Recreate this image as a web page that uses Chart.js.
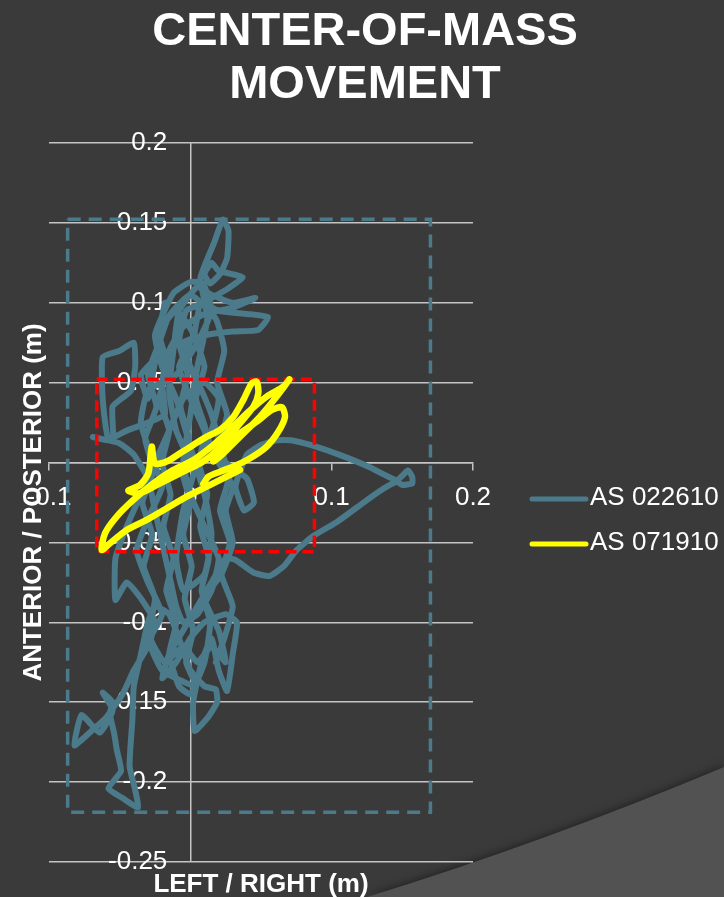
<!DOCTYPE html>
<html>
<head>
<meta charset="utf-8">
<script src="https://cdn.jsdelivr.net/npm/chart.js@4.4.1/dist/chart.umd.min.js"></script>
<style>
  html, body { margin: 0; padding: 0; background: #3a3a3a; }
  canvas { display: block; }
</style>
</head>
<body>
<canvas id="chart" width="724" height="897"></canvas>
<script>
// ---- text ----
const titleLines = ['CENTER-OF-MASS', 'MOVEMENT'];
const xAxisTitle = 'LEFT / RIGHT (m)';
const yAxisTitle = 'ANTERIOR / POSTERIOR (m)';
const seriesNames = ['AS 022610', 'AS 071910'];

// ---- ticks ----
const xTickValues = [-0.1, 0, 0.1, 0.2];
const xTickLabels = ['-0.1', '0', '0.1', '0.2'];
const yTickValues = [-0.25, -0.2, -0.15, -0.1, -0.05, 0, 0.05, 0.1, 0.15, 0.2];
const yTickLabels = ['-0.25', '-0.2', '-0.15', '-0.1', '-0.05', '0', '0.05', '0.1', '0.15', '0.2'];

// ---- centre-of-mass traces, [left/right, anterior/posterior] in metres ----
const as022610Path = [
  [0.000, 0.000], [-0.010, 0.020], [-0.015, 0.045], [-0.012, 0.070], [-0.008, 0.095], [0.005, 0.110],
  [0.015, 0.105], [0.030, 0.100], [0.046, 0.103], [0.030, 0.097], [0.010, 0.093], [-0.005, 0.085],
  [-0.015, 0.070], [-0.020, 0.050], [-0.018, 0.030],
  [-0.030, 0.025], [-0.045, 0.020], [-0.058, 0.015], [-0.062, 0.040], [-0.062, 0.066], [-0.050, 0.070],
  [-0.040, 0.075], [-0.039, 0.060], [-0.042, 0.045], [-0.055, 0.035], [-0.055, 0.014], [-0.069, 0.016],
  [-0.050, 0.012], [-0.040, 0.005],
  [-0.030, -0.010], [-0.025, -0.030], [-0.020, -0.050], [-0.015, -0.070], [-0.010, -0.090], [-0.005, -0.100],
  [0.005, -0.095], [0.015, -0.080], [0.020, -0.060], [0.010, -0.040], [0.000, -0.020], [-0.005, 0.000],
  [0.000, 0.030], [0.005, 0.060], [0.012, 0.090],
  [0.007, 0.115], [0.010, 0.123], [0.017, 0.138], [0.023, 0.152], [0.027, 0.145], [0.026, 0.128],
  [0.021, 0.118], [0.014, 0.112], [0.010, 0.118], [0.015, 0.125], [0.020, 0.120], [0.037, 0.116],
  [0.025, 0.108], [0.010, 0.100],
  [0.020, 0.095], [0.040, 0.093], [0.055, 0.091], [0.048, 0.083], [0.030, 0.082], [0.012, 0.080],
  [-0.005, 0.075], [0.000, 0.060], [0.008, 0.045], [0.015, 0.030], [0.020, 0.015], [0.025, 0.000],
  [0.040, -0.010], [0.045, -0.025], [0.038, -0.030], [0.032, -0.015], [0.040, 0.005],
  [0.050, 0.011], [0.061, 0.014], [0.071, 0.014], [0.085, 0.011], [0.108, 0.004], [0.127, -0.003],
  [0.146, -0.011], [0.154, -0.005], [0.157, -0.009], [0.157, -0.013], [0.150, -0.014], [0.146, -0.012],
  [0.132, -0.019], [0.118, -0.028], [0.104, -0.037], [0.087, -0.046], [0.075, -0.055], [0.066, -0.065],
  [0.056, -0.071], [0.045, -0.069], [0.032, -0.061],
  [0.025, -0.060], [0.015, -0.075], [0.005, -0.090], [-0.005, -0.105], [-0.015, -0.120], [-0.020, -0.135],
  [-0.010, -0.125], [0.000, -0.110], [0.010, -0.100], [0.025, -0.095], [0.033, -0.100], [0.030, -0.120],
  [0.026, -0.143], [0.020, -0.130], [0.015, -0.110], [0.008, -0.125], [0.002, -0.150], [0.003, -0.168],
  [0.012, -0.160], [0.019, -0.150], [0.018, -0.142], [0.010, -0.140], [0.000, -0.130], [-0.008, -0.110],
  [-0.015, -0.095], [-0.025, -0.090],
  [-0.030, -0.100], [-0.035, -0.120], [-0.040, -0.140], [-0.041, -0.161], [-0.043, -0.190], [-0.039, -0.205],
  [-0.037, -0.216], [-0.048, -0.210], [-0.058, -0.204], [-0.049, -0.193], [-0.052, -0.180], [-0.054, -0.169],
  [-0.057, -0.157], [-0.055, -0.150], [-0.062, -0.144], [-0.055, -0.155], [-0.064, -0.169], [-0.077, -0.158],
  [-0.082, -0.177], [-0.070, -0.168], [-0.060, -0.160], [-0.048, -0.145], [-0.040, -0.130],
  [-0.030, -0.115], [-0.025, -0.100], [-0.035, -0.085], [-0.045, -0.075], [-0.053, -0.086], [-0.053, -0.060],
  [-0.045, -0.040], [-0.035, -0.020], [-0.025, 0.000], [-0.015, 0.020], [-0.005, 0.040], [0.010, 0.050],
  [0.020, 0.040], [0.015, 0.020], [0.005, 0.000], [-0.005, -0.030], [-0.010, -0.060], [-0.005, -0.080],
  [0.010, -0.070], [0.015, -0.045], [0.010, -0.020], [0.000, 0.010], [-0.010, 0.040], [-0.020, 0.060],
  [-0.025, 0.080], [-0.012, 0.106], [0.000, 0.113], [0.009, 0.112],
  [0.015, 0.095], [0.005, 0.075], [-0.010, 0.055], [-0.030, 0.045], [-0.035, 0.025], [-0.028, 0.005],
  [-0.020, -0.015], [-0.030, -0.035], [-0.038, -0.055], [-0.030, -0.075], [-0.020, -0.095], [-0.028, -0.110],
  [-0.018, -0.125], [-0.005, -0.115], [0.005, -0.125], [0.015, -0.115], [0.025, -0.125], [0.020, -0.105],
  [0.010, -0.085], [0.022, -0.070], [0.030, -0.050], [0.025, -0.030], [0.030, -0.015], [0.020, 0.000],
  [0.010, 0.020], [0.000, 0.040], [-0.008, 0.060], [0.002, 0.080], [-0.010, 0.095], [-0.020, 0.085],
  [-0.025, 0.065], [-0.035, 0.055], [-0.030, 0.040],
  [-0.018, 0.100], [-0.022, 0.080], [-0.016, 0.060], [-0.022, 0.040], [-0.015, 0.020], [-0.020, 0.000],
  [-0.014, -0.020], [-0.019, -0.040], [-0.012, -0.060], [-0.017, -0.080], [-0.010, -0.100], [-0.015, -0.120],
  [-0.008, -0.140],
  [0.000, -0.145], [0.010, -0.125], [0.014, -0.100], [0.008, -0.080], [0.013, -0.060], [0.007, -0.040],
  [0.012, -0.020], [0.006, 0.000], [0.011, 0.020], [0.004, 0.040], [0.010, 0.060], [0.003, 0.080],
  [0.006, 0.098],
  [-0.003, 0.095], [-0.008, 0.075], [-0.002, 0.055], [-0.007, 0.035], [-0.001, 0.015], [-0.006, -0.005],
  [0.000, -0.025], [-0.005, -0.045], [0.001, -0.065], [-0.004, -0.085], [0.002, -0.105], [-0.003, -0.125],
  [0.004, -0.140],
  [-0.020, -0.130], [-0.030, -0.110], [-0.025, -0.085], [-0.033, -0.065], [-0.027, -0.045], [-0.034, -0.025],
  [-0.026, -0.005], [-0.032, 0.015], [-0.024, 0.035], [-0.030, 0.055], [-0.022, 0.075], [-0.015, 0.092],
  [0.000, 0.105], [0.018, 0.090], [0.024, 0.070], [0.019, 0.050], [0.026, 0.030], [0.020, 0.010],
  [0.027, -0.010], [0.021, -0.030], [0.028, -0.050], [0.022, -0.070], [0.030, -0.090], [0.024, -0.110],
  [0.018, -0.125]
];

const as071910Path = [
  [0.0092, -0.0134], [0.0128, -0.0088], [0.0210, -0.0057], [0.0305, -0.0025], [0.0423, 0.0027],
  [0.0540, 0.0100], [0.0623, 0.0194], [0.0670, 0.0287], [0.0647, 0.0346], [0.0576, 0.0329],
  [0.0470, 0.0256], [0.0352, 0.0183], [0.0234, 0.0110], [0.0139, 0.0037], [0.0069, -0.0005],
  [-0.0073, -0.0067], [-0.0214, -0.0130], [-0.0356, -0.0192], [-0.0439, -0.0176], [-0.0356, -0.0140],
  [-0.0297, -0.0067], [-0.0273, 0.0100], [-0.0250, -0.0005], [-0.0167, 0.0006], [-0.0073, 0.0058],
  [0.0021, 0.0110], [0.0116, 0.0162], [0.0210, 0.0204], [0.0305, 0.0287], [0.0375, 0.0392],
  [0.0434, 0.0496], [0.0470, 0.0506], [0.0481, 0.0433], [0.0446, 0.0350], [0.0352, 0.0246],
  [0.0257, 0.0141], [0.0187, 0.0058], [0.0163, 0.0006], [0.0234, 0.0058], [0.0352, 0.0162],
  [0.0493, 0.0287], [0.0611, 0.0413], [0.0701, 0.0521], [0.0658, 0.0475], [0.0540, 0.0413],
  [0.0399, 0.0308], [0.0281, 0.0204], [0.0163, 0.0110], [0.0021, 0.0016], [-0.0120, -0.0046],
  [-0.0262, -0.0130], [-0.0403, -0.0234], [-0.0521, -0.0338], [-0.0604, -0.0443], [-0.0627, -0.0547],
  [-0.0568, -0.0505], [-0.0450, -0.0422], [-0.0309, -0.0359], [-0.0167, -0.0286], [-0.0026, -0.0213],
  [0.0116, -0.0151], [0.0257, -0.0088], [0.0352, -0.0046]
];

// ---- extent boxes (min / max of each trace) ----
const as022610RangeX = [-0.0868, 0.1699];
const as022610RangeY = [-0.2189, 0.1522];
const as071910RangeX = [-0.0662, 0.0878];
const as071910RangeY = [-0.0558, 0.0521];

// the value axis labels hang just left of the x = 0 line
const yLabelAnchorX = -0.0163;

const BLUE = '#4b7a8b';
const YELLOW = '#ffff00';
const RED = '#ff0000';
const GRID = '#c4c4c4';
const FONT = '"Liberation Sans", Arial, Helvetica, sans-serif';

const toPoints = path => path.map(([x, y]) => ({ x, y }));
const boxPoints = (rx, ry) => [
  { x: rx[0], y: ry[1] }, { x: rx[1], y: ry[1] }, { x: rx[1], y: ry[0] },
  { x: rx[0], y: ry[0] }, { x: rx[0], y: ry[1] }
];

// dark slide background with the lighter corner panel
const backdrop = {
  id: 'backdrop',
  beforeDraw(chart) {
    const { ctx, width: w, height: h } = chart;
    ctx.save();
    ctx.fillStyle = '#3a3a3a';
    ctx.fillRect(0, 0, w, h);
    ctx.shadowColor = 'rgba(0,0,0,0.55)';
    ctx.shadowBlur = 10;
    ctx.beginPath();
    ctx.moveTo(367, h);
    ctx.quadraticCurveTo(545, 842, w, 767);
    ctx.lineTo(w, h);
    ctx.closePath();
    ctx.fillStyle = '#525252';
    ctx.fill();
    ctx.restore();
  }
};

// title, axis titles and legend
const annotations = {
  id: 'annotations',
  afterDraw(chart) {
    const { ctx, chartArea: a } = chart;
    ctx.save();
    ctx.fillStyle = '#ffffff';
    ctx.textAlign = 'center';
    ctx.textBaseline = 'alphabetic';
    ctx.font = 'bold 47px ' + FONT;
    ctx.fillText(titleLines[0], 365, 45);
    ctx.fillText(titleLines[1], 365, 98);

    ctx.font = 'bold 26px ' + FONT;
    ctx.fillText(xAxisTitle, (a.left + a.right) / 2, 892);
    ctx.save();
    ctx.translate(41, (a.top + a.bottom) / 2);
    ctx.rotate(-Math.PI / 2);
    ctx.fillText(yAxisTitle, 0, 0);
    ctx.restore();

    const rows = [499, 544];
    ctx.font = '26px ' + FONT;
    ctx.textAlign = 'left';
    ctx.textBaseline = 'middle';
    ctx.lineCap = 'round';
    ctx.lineWidth = 5;
    [0, 1].forEach(i => {
      const ds = chart.data.datasets[i];
      ctx.strokeStyle = ds.borderColor;
      ctx.beginPath();
      ctx.moveTo(532, rows[i]);
      ctx.lineTo(586, rows[i]);
      ctx.stroke();
      ctx.fillStyle = '#ffffff';
      ctx.fillText(ds.label, 590, rows[i] - 1);
    });
    ctx.restore();
  }
};

new Chart(document.getElementById('chart'), {
  type: 'line',
  data: {
    datasets: [
      {
        label: seriesNames[0], data: toPoints(as022610Path),
        borderColor: BLUE, borderWidth: 6, pointRadius: 0, tension: 0.15,
        borderCapStyle: 'round', borderJoinStyle: 'round', fill: false, order: 3
      },
      {
        label: seriesNames[1], data: toPoints(as071910Path),
        borderColor: YELLOW, borderWidth: 6.5, pointRadius: 0, tension: 0.25,
        borderCapStyle: 'round', borderJoinStyle: 'round', fill: false, order: 0
      },
      {
        label: seriesNames[0] + ' range', data: boxPoints(as022610RangeX, as022610RangeY),
        borderColor: BLUE, borderWidth: 3.5, borderDash: [13, 8], pointRadius: 0, tension: 0,
        fill: false, order: 2
      },
      {
        label: seriesNames[1] + ' range', data: boxPoints(as071910RangeX, as071910RangeY),
        borderColor: RED, borderWidth: 3.5, borderDash: [11, 6], pointRadius: 0, tension: 0,
        fill: false, order: 1
      }
    ]
  },
  options: {
    responsive: false,
    devicePixelRatio: 1,
    animation: false,
    events: [],
    layout: { padding: { left: 49, top: 143, right: 251, bottom: 35 } },
    plugins: { legend: { display: false }, title: { display: false }, tooltip: { enabled: false } },
    scales: {
      x: {
        type: 'linear', position: { y: 0 }, min: -0.1, max: 0.2,
        afterBuildTicks: s => { s.ticks = xTickValues.map(v => ({ value: v })); },
        ticks: {
          color: '#ffffff', padding: 13, maxRotation: 0, autoSkip: false,
          font: { family: FONT, size: 26 },
          callback: (v, i) => xTickLabels[i]
        },
        grid: {
          drawOnChartArea: true, drawTicks: true, tickLength: 7, lineWidth: 1.5,
          color: c => (c.tick && c.tick.value === 0 ? GRID : 'rgba(0,0,0,0)'),
          tickColor: GRID
        },
        border: { display: true, color: GRID, width: 1.5 }
      },
      y: {
        type: 'linear', position: { x: yLabelAnchorX }, min: -0.25, max: 0.2,
        afterBuildTicks: s => { s.ticks = yTickValues.map(v => ({ value: v })); },
        ticks: {
          color: '#ffffff', autoSkip: false,
          font: { family: FONT, size: 26 },
          callback: (v, i) => yTickLabels[i]
        },
        grid: { drawTicks: false, color: GRID, lineWidth: 1.5 },
        border: { display: false }
      }
    }
  },
  plugins: [backdrop, annotations]
});
</script>
</body>
</html>
